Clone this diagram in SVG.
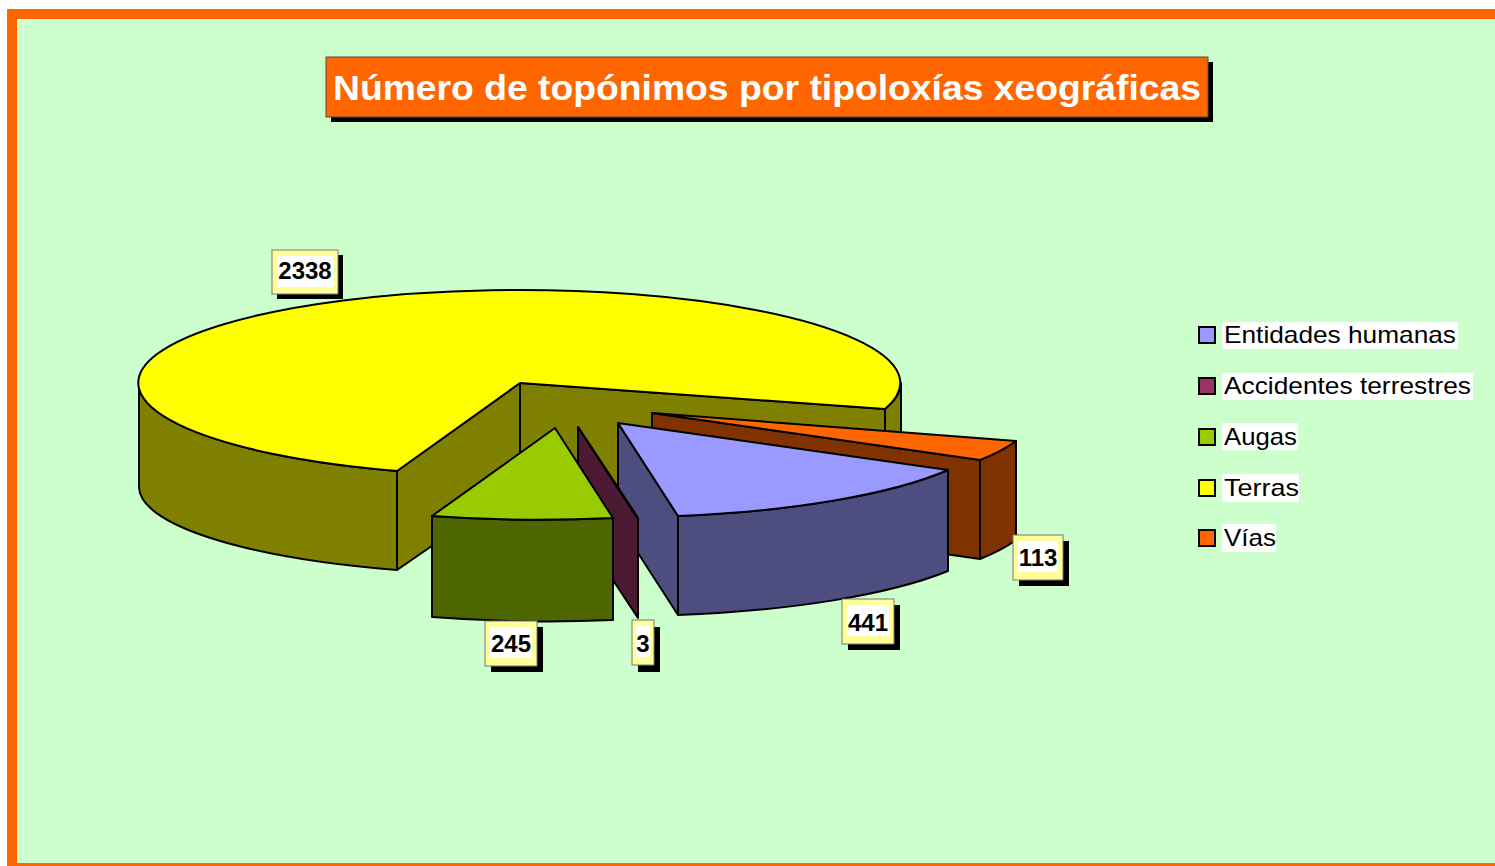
<svg xmlns="http://www.w3.org/2000/svg" width="1495" height="866" viewBox="0 0 1495 866">
  <defs>
    <style>
      .edge { stroke: #000; stroke-width: 2; stroke-linejoin: round; }
      .lblShadow { fill: #000; }
      .lblFrame { fill: #FFFF99; stroke: #777; stroke-width: 1; }
      .lblInner { fill: #FFFFFF; }
      .lblText { font-family: "Liberation Sans", Arial, sans-serif; font-weight: bold; font-size: 24px; fill: #000; text-anchor: middle; }
      .legSwatch { stroke: #000; stroke-width: 2; }
      .legBg { fill: #FFFFFF; }
      .legText { font-family: "Liberation Sans", Arial, sans-serif; font-size: 24px; fill: #000; }
    </style>
  </defs>

  <!-- background and frame -->
  <rect x="0" y="0" width="1495" height="866" fill="#FFFFFF"/>
  <rect x="7" y="9" width="1500" height="870" fill="#FF6600"/>
  <rect x="17" y="19" width="1490" height="844" fill="#CCFFCC"/>

  <!-- title -->
  <g id="title">
    <rect x="331" y="62" width="882" height="60" fill="#000"/>
    <rect x="326" y="57" width="882" height="60" fill="#FF6600" stroke="#4D4D4D" stroke-width="1"/>
    <text x="767" y="100" font-family="Liberation Sans, Arial, sans-serif" font-weight="bold" font-size="35" fill="#FFFFFF" text-anchor="middle" textLength="868" lengthAdjust="spacingAndGlyphs">Número de topónimos por tipoloxías xeográficas</text>
  </g>

  <!-- Terras (yellow) -->
  <g id="slice-terras">
    <path class="edge" fill="#808000" d="M139,383 A381,93 0 0 0 397,471 L397,570 A381,88 0 0 1 139,487 Z"/>
    <path class="edge" fill="#808000" d="M901,383 A381,93 0 0 1 885,409 L885,511 A381,88 0 0 0 901,487 Z"/>
    <path class="edge" fill="#808000" d="M520,383 L885,409 L885,511 L520,485 Z"/>
    <path class="edge" fill="#808000" d="M520,383 L397,471 L397,570 L520,485 Z"/>
    <path class="edge" fill="#FFFF00" d="M520,383 L885,409 A381,93 0 1 0 397,471 Z"/>
  </g>

  <!-- Vías (orange) -->
  <g id="slice-vias">
    <path class="edge" fill="#803300" d="M1016,441 A381,93 0 0 1 980,460 L980,559 A381,93 0 0 0 1016,540 Z"/>
    <path class="edge" fill="#803300" d="M652,413 L980,460 L980,559 L652,512 Z"/>
    <path class="edge" fill="#FF6600" d="M652,413 L1016,441 A381,93 0 0 1 980,460 Z"/>
  </g>

  <!-- Entidades humanas (blue) -->
  <g id="slice-entidades">
    <path class="edge" fill="#4D4D80" d="M678,516 A381,93 0 0 0 948,470 L948,571 A381,93 0 0 1 678,615 Z"/>
    <path class="edge" fill="#4D4D80" d="M618,423 L678,516 L678,615 L618,522 Z"/>
    <path class="edge" fill="#9999FF" d="M618,423 L948,470 A381,93 0 0 1 678,516 Z"/>
  </g>

  <!-- Accidentes terrestres (maroon) -->
  <g id="slice-accidentes">
    <path class="edge" fill="#4D1A33" d="M578,427 L638,518 L638,618 L578,527 Z"/>
    <path class="edge" fill="#993366" d="M578,427 L638,518 L637,518 Z"/>
  </g>

  <!-- Augas (green) -->
  <g id="slice-augas">
    <path class="edge" fill="#4D6600" d="M432,516 A381,93 0 0 0 613,518 L613,620 A381,93 0 0 1 432,617 Z"/>
    <path class="edge" fill="#99CC00" d="M555,428 L613,518 A381,93 0 0 1 432,516 Z"/>
  </g>

  <!-- data labels -->
  <g id="label-2338">
    <rect class="lblShadow" x="277" y="255" width="66" height="44"/>
    <rect class="lblFrame" x="272" y="250" width="66" height="44"/>
    <rect class="lblInner" x="277" y="256" width="56" height="31"/>
    <text class="lblText" x="305" y="279">2338</text>
  </g>
  <g id="label-245">
    <rect class="lblShadow" x="491" y="627" width="52" height="45"/>
    <rect class="lblFrame" x="485" y="621" width="52" height="45"/>
    <rect class="lblInner" x="490" y="627" width="42" height="31"/>
    <text class="lblText" x="511" y="652">245</text>
  </g>
  <g id="label-3">
    <rect class="lblShadow" x="638" y="627" width="22" height="45"/>
    <rect class="lblFrame" x="632" y="620" width="22" height="45"/>
    <rect class="lblInner" x="636" y="626" width="14" height="31"/>
    <text class="lblText" x="643" y="652">3</text>
  </g>
  <g id="label-441">
    <rect class="lblShadow" x="848" y="605" width="52" height="45"/>
    <rect class="lblFrame" x="842" y="599" width="52" height="45"/>
    <rect class="lblInner" x="847" y="605" width="42" height="31"/>
    <text class="lblText" x="868" y="631">441</text>
  </g>
  <g id="label-113">
    <rect class="lblShadow" x="1019" y="541" width="50" height="45"/>
    <rect class="lblFrame" x="1013" y="535" width="50" height="45"/>
    <rect class="lblInner" x="1018" y="541" width="40" height="31"/>
    <text class="lblText" x="1038" y="566">113</text>
  </g>

  <!-- legend -->
  <g id="legend">
    <g id="legend-entidades">
      <rect class="legSwatch" x="1199" y="327" width="16" height="16" fill="#9999FF"/>
      <rect class="legBg" x="1222" y="322" width="236" height="27"/>
      <text class="legText" x="1224" y="343" textLength="232" lengthAdjust="spacingAndGlyphs">Entidades humanas</text>
    </g>
    <g id="legend-accidentes">
      <rect class="legSwatch" x="1199" y="378" width="16" height="16" fill="#993366"/>
      <rect class="legBg" x="1222" y="373" width="251" height="27"/>
      <text class="legText" x="1224" y="394" textLength="247" lengthAdjust="spacingAndGlyphs">Accidentes terrestres</text>
    </g>
    <g id="legend-augas">
      <rect class="legSwatch" x="1199" y="429" width="16" height="16" fill="#99CC00"/>
      <rect class="legBg" x="1222" y="423" width="76" height="27"/>
      <text class="legText" x="1224" y="445" textLength="73" lengthAdjust="spacingAndGlyphs">Augas</text>
    </g>
    <g id="legend-terras">
      <rect class="legSwatch" x="1199" y="480" width="16" height="16" fill="#FFFF00"/>
      <rect class="legBg" x="1222" y="474" width="77" height="28"/>
      <text class="legText" x="1224" y="496" textLength="75" lengthAdjust="spacingAndGlyphs">Terras</text>
    </g>
    <g id="legend-vias">
      <rect class="legSwatch" x="1199" y="530" width="16" height="16" fill="#FF6600"/>
      <rect class="legBg" x="1222" y="524" width="54" height="28"/>
      <text class="legText" x="1224" y="546" textLength="52" lengthAdjust="spacingAndGlyphs">Vías</text>
    </g>
  </g>
</svg>
